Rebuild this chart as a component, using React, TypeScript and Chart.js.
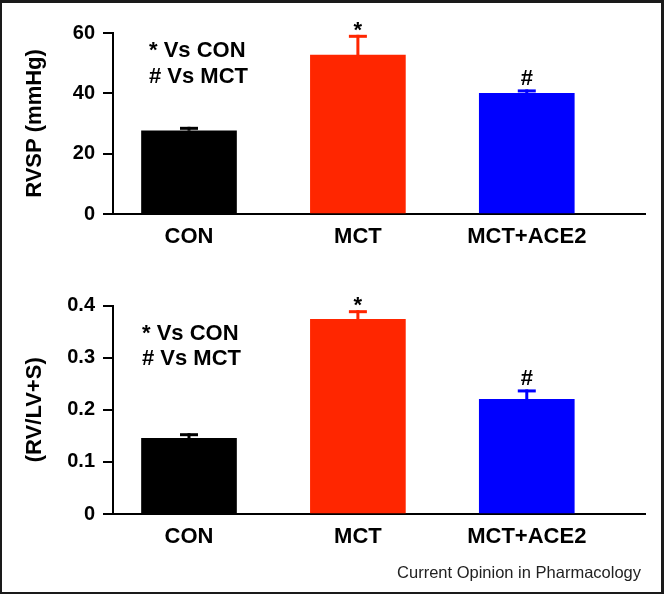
import React, { useEffect, useRef } from 'react';
import { Chart, registerables } from 'chart.js';

Chart.register(...registerables);

// ---------- data ----------
const categories = ['CON', 'MCT', 'MCT+ACE2'];
const barColors = ['#000000', '#ff2600', '#0000ff'];
const marks = ['', '*', '#'];

const rvspValues = [27.6, 52.7, 40.0];
const rvspErrors = [1.3, 6.7, 1.3];
const rvspTicks = [0, 20, 40, 60];
const rvspTitle = 'RVSP (mmHg)';

const ratioValues = [0.145, 0.3735, 0.22];
const ratioErrors = [0.01, 0.0175, 0.019];
const ratioTicks = [0, 0.1, 0.2, 0.3, 0.4];
const ratioTitle = '(RV/LV+S)';

const legendLines = ['* Vs CON', '# Vs MCT'];
const sourceNote = 'Current Opinion in Pharmacology';

// ---------- styling ----------
const FONT = '"Liberation Sans", Arial, Helvetica, sans-serif';
const X_MIN = -0.45;
const X_MAX = 2.7;

type PanelCfg = {
  values: number[];
  errors: number[];
  ticks: number[];
  title: string;
  height: number;
  padTop: number;
  xAxisHeight: number;
  legendX: number;
  legendY: number[];
  note?: boolean;
};

function makeChart(canvas: HTMLCanvasElement, cfg: PanelCfg) {
  const positions = categories.map((_, i) => i);
  const yMax = cfg.ticks[cfg.ticks.length - 1];

  const overlay = {
    id: 'overlay',
    afterDatasetsDraw(chart: any) {
      const ctx = chart.ctx as CanvasRenderingContext2D;
      const meta = chart.getDatasetMeta(0);
      const ys = chart.scales.y;
      ctx.save();
      meta.data.forEach((bar: any, i: number) => {
        const v = cfg.values[i];
        const top = ys.getPixelForValue(v + cfg.errors[i]);
        const base = ys.getPixelForValue(v);
        ctx.fillStyle = barColors[i];
        ctx.fillRect(bar.x - 1.5, top, 3, base - top);
        ctx.fillRect(bar.x - 9, top, 18, 3);
        if (marks[i]) {
          ctx.font = 'bold 22px ' + FONT;
          ctx.fillStyle = '#000';
          ctx.textAlign = 'center';
          ctx.textBaseline = 'alphabetic';
          const m = ctx.measureText(marks[i]);
          ctx.fillText(marks[i], bar.x, top - 4 - m.actualBoundingBoxDescent);
        }
      });
      // legend-like annotation
      ctx.font = 'bold 22px ' + FONT;
      ctx.fillStyle = '#000';
      ctx.textAlign = 'left';
      ctx.textBaseline = 'alphabetic';
      legendLines.forEach((t, k) => ctx.fillText(t, cfg.legendX, cfg.legendY[k]));
      if (cfg.note) {
        ctx.font = '16.5px ' + FONT;
        ctx.fillStyle = '#222';
        ctx.textAlign = 'right';
        ctx.fillText(sourceNote, 641, chart.height - 16);
      }
      ctx.restore();
    },
  };

  return new Chart(canvas, {
    type: 'bar',
    data: {
      datasets: [
        {
          data: positions.map((p, i) => ({ x: p, y: cfg.values[i] })),
          backgroundColor: barColors,
          borderWidth: 0,
          barThickness: 95,
        },
      ],
    },
    options: {
      responsive: false,
      animation: false,
      devicePixelRatio: 1,
      layout: { padding: { left: 0, right: 19, top: cfg.padTop, bottom: 0 } },
      plugins: { legend: { display: false }, tooltip: { enabled: false } },
      scales: {
        x: {
          type: 'linear',
          offset: false,
          min: X_MIN,
          max: X_MAX,
          afterBuildTicks: (s: any) => {
            s.ticks = positions.map((p) => ({ value: p }));
          },
          afterFit: (s: any) => {
            s.height = cfg.xAxisHeight;
          },
          ticks: {
            callback: (v: any) => categories[Math.round(v)],
            font: { family: FONT, size: 22, weight: 'bold' },
            color: '#000',
            padding: 10,
            maxRotation: 0,
            autoSkip: false,
          },
          grid: { display: false, drawTicks: false, offset: false },
          border: { display: true, color: '#000', width: 2 },
        },
        y: {
          type: 'linear',
          min: 0,
          max: yMax,
          afterBuildTicks: (s: any) => {
            s.ticks = cfg.ticks.map((t) => ({ value: t }));
          },
          afterFit: (s: any) => {
            s.width = 113;
          },
          ticks: {
            font: { family: FONT, size: 20, weight: 'bold' },
            color: '#000',
            padding: 8,
          },
          grid: {
            display: true,
            drawOnChartArea: false,
            drawTicks: true,
            tickLength: 10,
            color: '#000',
            lineWidth: 2,
          },
          border: { display: true, color: '#000', width: 2 },
          title: {
            display: true,
            text: cfg.title,
            font: { family: FONT, size: 22, weight: 'bold' },
            color: '#000',
            padding: { top: 22, bottom: 0 },
          },
        },
      },
    },
    plugins: [overlay],
  } as any);
}

const topCfg: PanelCfg = {
  values: rvspValues,
  errors: rvspErrors,
  ticks: rvspTicks,
  title: rvspTitle,
  height: 280,
  padTop: 33,
  xAxisHeight: 66,
  legendX: 149,
  legendY: [56.5, 83],
};

const bottomCfg: PanelCfg = {
  values: ratioValues,
  errors: ratioErrors,
  ticks: ratioTicks,
  title: ratioTitle,
  height: 314,
  padTop: 25.5,
  xAxisHeight: 80,
  legendX: 142,
  legendY: [60, 85],
  note: true,
};

function Panel({ cfg, top }: { cfg: PanelCfg; top: number }) {
  const ref = useRef<HTMLCanvasElement | null>(null);
  useEffect(() => {
    if (!ref.current) return;
    const c = makeChart(ref.current, cfg);
    return () => c.destroy();
  }, [cfg]);
  return (
    <canvas
      ref={ref}
      width={664}
      height={cfg.height}
      style={{ position: 'absolute', left: 0, top, width: 664, height: cfg.height, display: 'block' }}
    />
  );
}

export default function App() {
  return (
    <div
      style={{
        position: 'absolute',
        left: 0,
        top: 0,
        width: 664,
        height: 594,
        background: '#fff',
        overflow: 'hidden',
      }}
    >
      <Panel cfg={topCfg} top={0} />
      <Panel cfg={bottomCfg} top={280} />
      <div
        style={{
          position: 'absolute',
          inset: 0,
          boxSizing: 'border-box',
          borderStyle: 'solid',
          borderColor: '#1a1a1a',
          borderWidth: '3px 3px 2px 2px',
          pointerEvents: 'none',
        }}
      />
    </div>
  );
}
